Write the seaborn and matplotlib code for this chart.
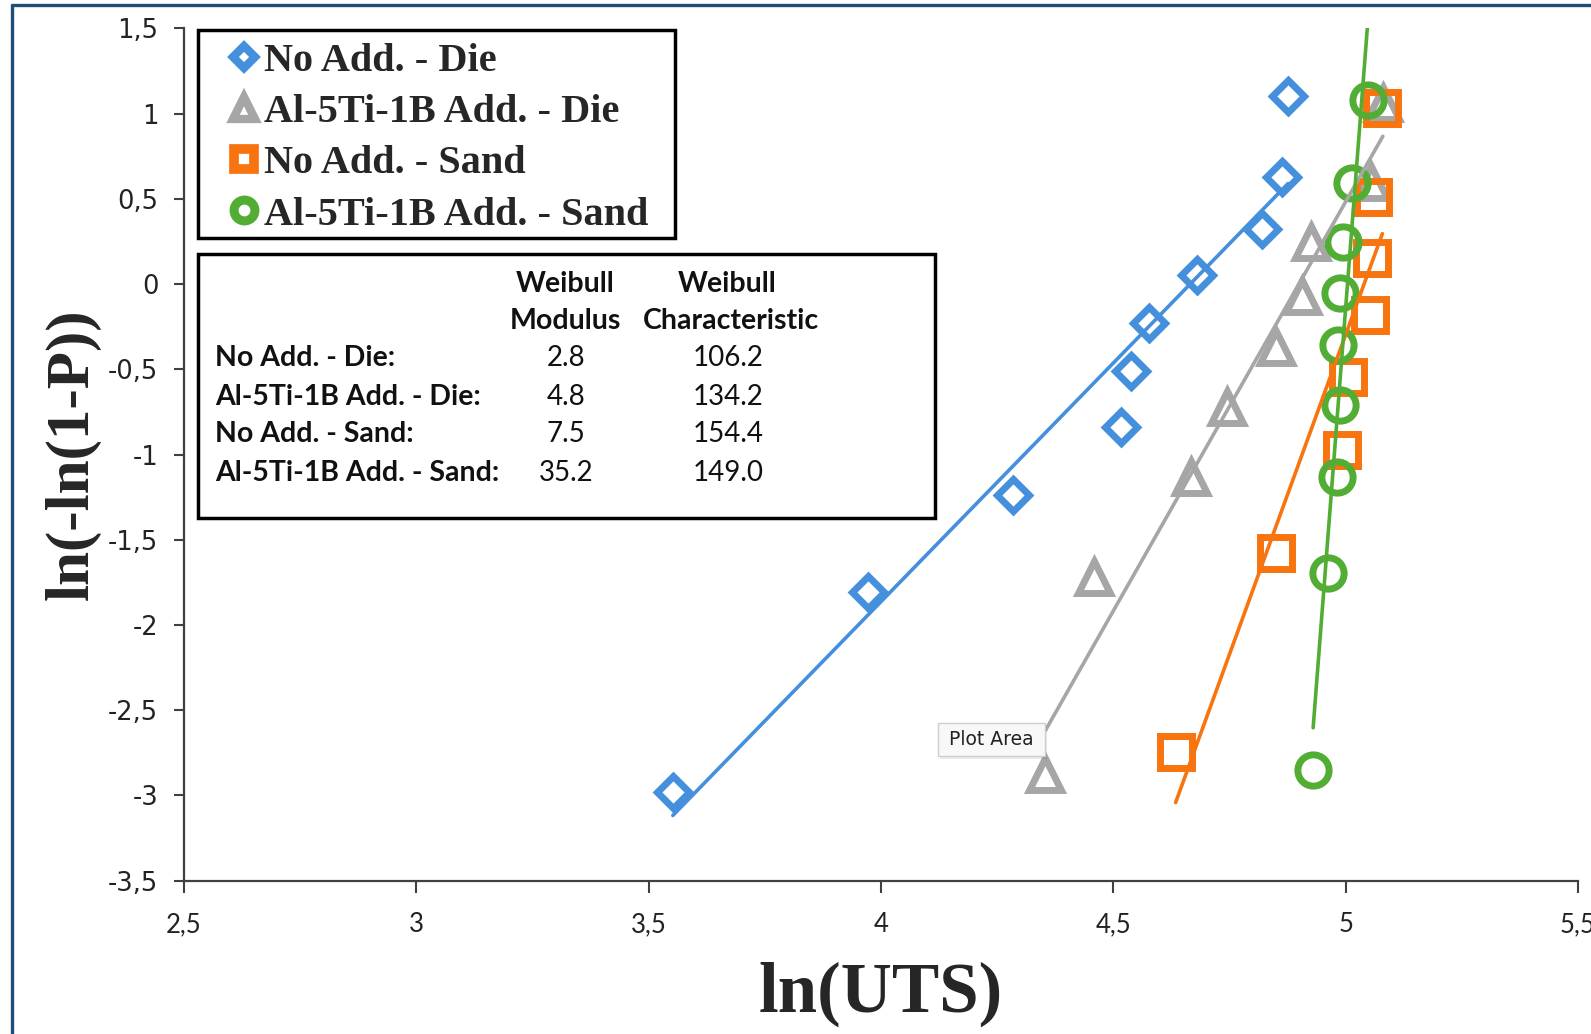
import numpy as np
import pandas as pd
import matplotlib
matplotlib.use("Agg")
import matplotlib.pyplot as plt
from matplotlib.lines import Line2D
from matplotlib.patches import Rectangle
from matplotlib.font_manager import FontProperties
import seaborn as sns

# ---- data: ln(UTS) vs ln(-ln(1-P)) for each casting condition ----
die_plain_x = [3.552, 3.972, 4.284, 4.517, 4.539, 4.576, 4.681, 4.819, 4.862, 4.876]
die_plain_y = [-2.982, -1.804, -1.238, -0.839, -0.512, -0.226, 0.054, 0.321, 0.631, 1.101]

die_ti_x = [4.354, 4.458, 4.667, 4.745, 4.850, 4.906, 4.926, 5.054, 5.080]
die_ti_y = [-2.875, -1.718, -1.134, -0.722, -0.371, -0.072, 0.248, 0.597, 1.062]

sand_plain_x = [4.634, 4.849, 4.993, 5.005, 5.053, 5.057, 5.059, 5.079]
sand_plain_y = [-2.745, -1.578, -0.973, -0.545, -0.181, 0.153, 0.511, 1.033]

sand_ti_x = [4.930, 4.962, 4.982, 4.988, 4.984, 4.988, 4.995, 5.014, 5.0485]
sand_ti_y = [-2.851, -1.695, -1.132, -0.709, -0.357, -0.052, 0.247, 0.593, 1.080]

series_names = ["No Add. - Die", "Al-5Ti-1B Add. - Die",
                "No Add. - Sand", "Al-5Ti-1B Add. - Sand"]
weibull_modulus = [2.8, 4.8, 7.5, 35.2]
weibull_characteristic = [106.2, 134.2, 154.4, 149.0]

x_ticks = [2.5, 3.0, 3.5, 4.0, 4.5, 5.0, 5.5]
y_ticks = [-3.5, -3.0, -2.5, -2.0, -1.5, -1.0, -0.5, 0.0, 0.5, 1.0, 1.5]

# ---- styling ----
colors = ["#4590dd", "#a6a6a6", "#f7740f", "#52ad34"]
markers = ["D", "^", "s", "o"]
marker_sizes = [16.5, 22.5, 22.5, 22.5]
marker_ew = [5.0, 5.0, 5.0, 5.0]

W, H = 1591, 1034
sns.set_theme(style="ticks")
plt.rcParams["font.family"] = ["DejaVu Sans"]

fig = plt.figure(figsize=(W / 100, H / 100), dpi=100)
fig.patch.set_facecolor("white")


def fx(px):
    return px / W


def fy(py):
    return 1 - py / H


ax = fig.add_axes([fx(184), fy(880.7), fx(1578) - fx(184), fy(28.4) - fy(880.7)])
ax.set_facecolor("white")

xs = [die_plain_x, die_ti_x, sand_plain_x, sand_ti_x]
ys = [die_plain_y, die_ti_y, sand_plain_y, sand_ti_y]

frames = []
for name, x, y in zip(series_names, xs, ys):
    frames.append(pd.DataFrame({"lnUTS": x, "lnlnP": y, "series": name}))
points = pd.concat(frames, ignore_index=True)

for i, name in enumerate(series_names):
    sub = points[points["series"] == name]
    # hollow markers for the measured points
    sns.lineplot(data=sub, x="lnUTS", y="lnlnP", ax=ax, estimator=None, sort=False,
                 linestyle="none", marker=markers[i], markersize=marker_sizes[i],
                 markerfacecolor="none", markeredgecolor=colors[i],
                 markeredgewidth=marker_ew[i], color=colors[i], legend=False, zorder=2)
    # Weibull fit: ln(-ln(1-P)) = m * (ln(UTS) - ln(eta))
    m = weibull_modulus[i]
    eta = weibull_characteristic[i]
    fit_x = np.array([sub["lnUTS"].min(), sub["lnUTS"].max()])
    fit = pd.DataFrame({"lnUTS": fit_x, "lnlnP": m * (fit_x - np.log(eta))})
    sns.lineplot(data=fit, x="lnUTS", y="lnlnP", ax=ax, estimator=None, sort=False,
                 color=colors[i], linewidth=2.6, legend=False, zorder=3)

ax.set_xlim(2.5, 5.5)
ax.set_ylim(-3.5, 1.5)
ax.set_xticks(x_ticks)
ax.set_yticks(y_ticks)


def comma(v):
    return f"{v:g}".replace(".", ",")


ax.set_xticklabels([comma(v) for v in x_ticks], family="Lato", fontsize=18.5, color="#222222")
ax.set_yticklabels([comma(v) for v in y_ticks], family="DejaVu Sans", fontsize=18.5, color="#222222")
ax.tick_params(axis="both", direction="out", width=1.5, color="#404040")
ax.tick_params(axis="x", length=8.5, pad=14)
ax.tick_params(axis="y", length=7.5, pad=11)

for side in ["top", "right"]:
    ax.spines[side].set_visible(False)
for side in ["left", "bottom"]:
    ax.spines[side].set_color("#404040")
    ax.spines[side].set_linewidth(1.6)

serif_bold = dict(family="Liberation Serif", weight="bold")
ax.set_xlabel("ln(UTS)", fontsize=51, va="center", **serif_bold)
ax.xaxis.set_label_coords(0.5, (880.7 - 994) / 852.3)
ax.set_ylabel("ln(-ln(1-P))", fontsize=44, va="center", **serif_bold)
ax.yaxis.set_label_coords((73 - 184) / 1394, 0.5)
ax.grid(False)

# ---- legend ----
leg_sizes = [11.5, 15.5, 14.5, 15]
leg_ew = [6, 6, 7, 6.5]
handles = [Line2D([], [], linestyle="none", marker=markers[i], markersize=leg_sizes[i],
                  markerfacecolor="none", markeredgecolor=colors[i],
                  markeredgewidth=leg_ew[i]) for i in range(4)]
leg = ax.legend(handles, series_names, loc="upper left",
                bbox_to_anchor=(fx(232), fy(42.5)), bbox_transform=fig.transFigure,
                frameon=False, prop=FontProperties(family="Liberation Serif", weight="bold", size=29),
                handlelength=0.6, handletextpad=0.2, labelspacing=0.35,
                borderpad=0, borderaxespad=0)
fig.add_artist(Rectangle((fx(198), fy(238)), (675 - 198) / W, (238 - 30) / H,
                         transform=fig.transFigure, fill=False, ec="black", lw=2.5, zorder=5))

# ---- Weibull parameter table ----
fig.add_artist(Rectangle((fx(198), fy(518)), (935 - 198) / W, (518 - 254) / H,
                         transform=fig.transFigure, fill=True, fc="white", ec="black",
                         lw=2.5, zorder=5))
tbl_font = "Lato"
hdr = dict(family=tbl_font, weight="bold", fontsize=20.5, ha="center", va="center",
           color="#111111", zorder=6)
fig.text(fx(565), fy(284), "Weibull", **hdr)
fig.text(fx(727), fy(284), "Weibull", **hdr)
fig.text(fx(565), fy(321), "Modulus", **hdr)
fig.text(fx(731), fy(321), "Characteristic", **hdr)
row_y = [358, 397, 434, 473]
for name, m, eta, yy in zip(series_names, weibull_modulus, weibull_characteristic, row_y):
    fig.text(fx(215), fy(yy), f"{name}:", family=tbl_font, weight="bold", fontsize=20.5,
             ha="left", va="center", color="#111111", zorder=6)
    fig.text(fx(566), fy(yy), f"{m:.1f}", family=tbl_font, fontsize=20,
             ha="center", va="center", color="#111111", zorder=6)
    fig.text(fx(728), fy(yy), f"{eta:.1f}", family=tbl_font, fontsize=20,
             ha="center", va="center", color="#111111", zorder=6)

# ---- chart-area hover label ----
fig.add_artist(Rectangle((fx(940), fy(759)), 107 / W, 33 / H, transform=fig.transFigure,
                         fc="#000000", alpha=0.08, ec="none", zorder=6))
fig.add_artist(Rectangle((fx(938), fy(756)), 107 / W, 33 / H, transform=fig.transFigure,
                         fc="#f8f8f8", ec="#cfcfcf", lw=1, zorder=7))
fig.text(fx(991.5), fy(739.5), "Plot Area", family="DejaVu Sans", fontsize=13.5,
         ha="center", va="center", color="#222222", zorder=8)

# ---- outer frame ----
frame_col = "#1f4e79"
fig.add_artist(Line2D([fx(12), fx(12)], [fy(5), 0], color=frame_col, lw=2.4,
                      transform=fig.transFigure))
fig.add_artist(Line2D([fx(12), 1], [fy(5), fy(5)], color=frame_col, lw=2.4,
                      transform=fig.transFigure))

fig.savefig("out.png", dpi=100, facecolor="white")
